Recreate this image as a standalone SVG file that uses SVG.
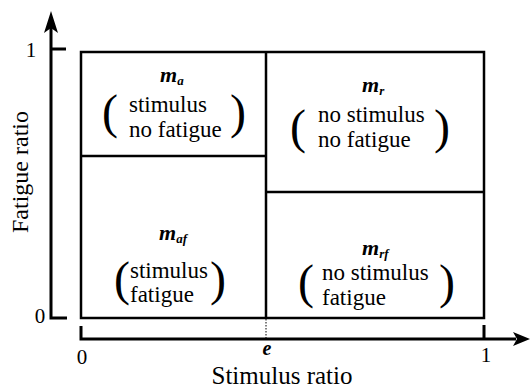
<svg xmlns="http://www.w3.org/2000/svg" width="531" height="388" viewBox="0 0 531 388" font-family="Liberation Serif, serif">
<style>
text{fill:#000}
.t{font-size:23px}
.m{font-size:22px;font-weight:bold;font-style:italic}
.s{font-size:13px}
.p{font-size:48px;text-anchor:middle}
.n{font-size:21px;text-anchor:middle}
.ax{stroke:#000;stroke-width:3;fill:none}
.bx{stroke:#000;stroke-width:2.5;fill:none}
</style>
<rect width="531" height="388" fill="#fff"/>
<g id="axes">
<path class="ax" d="M51,28 V318 H67 M51,49 H66"/>
<polygon points="51,11 58,33 51,28 44,33" fill="#000"/>
<path class="ax" d="M81,326 V339 H516 M484,325 V339"/>
<polygon points="530,339 513,332 517,339 513,346" fill="#000"/>
<line x1="266" y1="319" x2="266" y2="339" stroke="#000" stroke-width="1" stroke-dasharray="1.5,1.5"/>
<text class="n" x="31" y="57">1</text>
<text class="n" x="40" y="323">0</text>
<text class="n" x="82" y="364">0</text>
<text class="n" x="486" y="362">1</text>
<text class="m" x="267" y="355" text-anchor="middle" style="font-size:20px">e</text>
<text x="282" y="384" text-anchor="middle" font-size="25">Stimulus ratio</text>
<text x="0" y="0" font-size="24" transform="translate(28,172) rotate(-90)" text-anchor="middle">Fatigue ratio</text>
</g>
<g id="connectors">
<rect class="bx" x="81" y="52" width="403" height="266"/>
<path class="bx" d="M266,52 V318 M81,156 H266 M266,192 H484"/>
</g>
<g id="ma">
<text class="m" x="160" y="82">m<tspan class="s" dy="3">a</tspan></text>
<text class="p" x="110" y="128">(</text>
<text class="t" x="129" y="112">stimulus</text>
<text class="t" x="129" y="137">no fatigue</text>
<text class="p" x="238" y="128">)</text>
</g>
<g id="mr">
<text class="m" x="362" y="92">m<tspan class="s" dy="3">r</tspan></text>
<text class="p" x="298" y="143">(</text>
<text class="t" x="318" y="122">no stimulus</text>
<text class="t" x="318" y="147">no fatigue</text>
<text class="p" x="442" y="143">)</text>
</g>
<g id="maf">
<text class="m" x="159" y="240">m<tspan class="s" dy="3">af</tspan></text>
<text class="p" x="122" y="295">(</text>
<text class="t" x="130" y="278">stimulus</text>
<text class="t" x="130" y="302">fatigue</text>
<text class="p" x="218" y="295">)</text>
</g>
<g id="mrf">
<text class="m" x="362" y="255">m<tspan class="s" dy="3">rf</tspan></text>
<text class="p" x="306" y="298">(</text>
<text class="t" x="322" y="280">no stimulus</text>
<text class="t" x="322" y="305">fatigue</text>
<text class="p" x="447" y="298">)</text>
</g>
</svg>
